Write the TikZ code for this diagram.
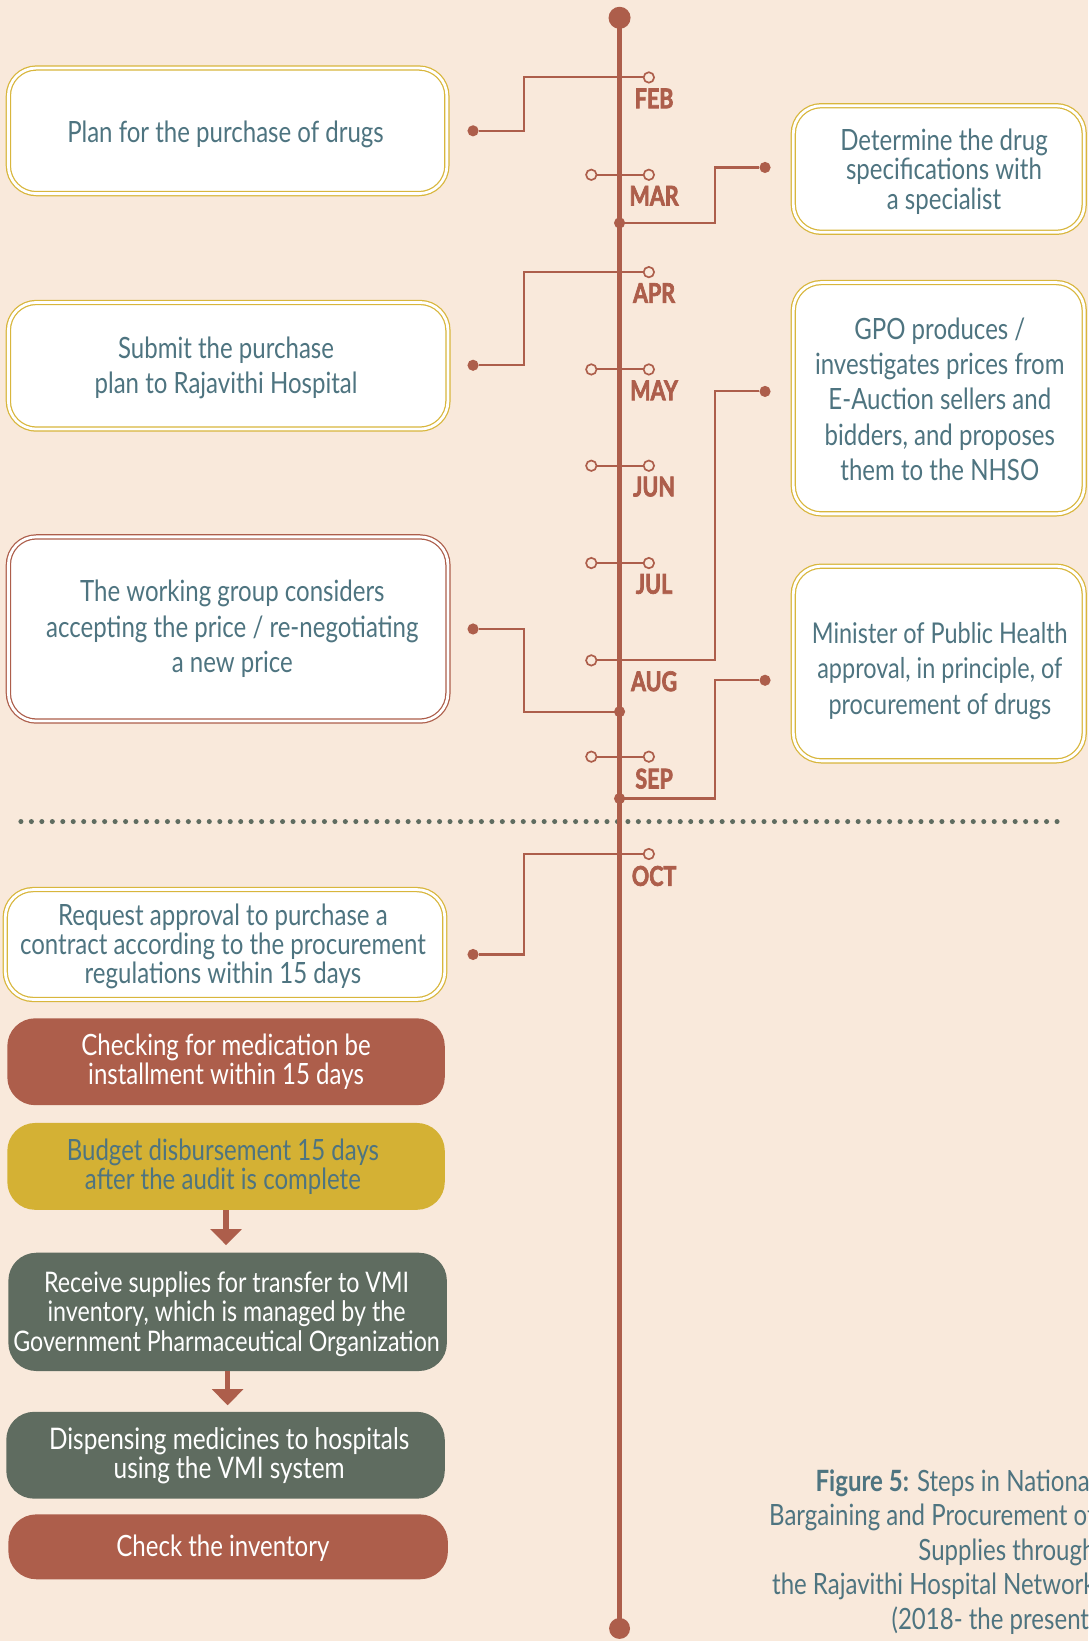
\documentclass[tikz,border=0pt]{standalone}
\usepackage{fontspec}
\setmainfont{Lato}[FakeStretch=0.82]
\newfontfamily\monfont{Lato}[FakeStretch=0.79, BoldFeatures={FakeBold=2.5}]
\usetikzlibrary{arrows.meta}
\definecolor{bg}{RGB}{249,233,219}
\definecolor{rust}{RGB}{173,94,75}
\definecolor{gold}{RGB}{216,182,60}
\definecolor{mustard}{RGB}{212,177,52}
\definecolor{sage}{RGB}{95,108,96}
\definecolor{tealtxt}{RGB}{78,116,128}
\newcommand{\bxfont}{\fontsize{21}{25.3}\selectfont}
\newcommand{\bxfontt}{\fontsize{21}{21}\selectfont}
\tikzset{
  conn/.style={draw=rust, line width=1.5pt},
  tickc/.style={circle, draw=rust, fill=bg, line width=1.2pt, minimum size=7.5pt, inner sep=0pt},
  enddot/.style={circle, fill=rust, minimum size=8pt, inner sep=0pt},
  mon/.style={text=rust, font=\monfont\bfseries\fontsize{19.5}{20}\selectfont, inner sep=0pt},
  box/.style={rectangle, rounded corners=20pt, inner sep=0pt},
  wbox/.style={box, fill=white, draw=#1, line width=0.9pt, double=white, double distance=2pt},
  fbox/.style={box, fill=#1},
  wtext/.style={align=center, inner sep=0pt, text=tealtxt, font=\bxfont},
  ftext/.style={align=center, inner sep=0pt, text=white, font=\bxfontt},
  arr/.style={draw=rust, line width=4pt, -{Triangle[width=22pt,length=11.5pt]}},
}
\begin{document}
\begin{tikzpicture}[x=0.75pt,y=-0.75pt]
\fill[bg] (0,0) rectangle (1040,1568);
\useasboundingbox (0,0) rectangle (1040,1568);

% boxes
\node[wbox=gold, minimum width=314.25pt, minimum height=90pt] (b1) at (217.5,125) {};
\node[wbox=gold, minimum width=208.5pt, minimum height=90.75pt] (b2) at (897,161.5) {};
\node[wbox=gold, minimum width=315pt, minimum height=90.75pt] (b3) at (218,349.5) {};
\node[wbox=gold, minimum width=208.5pt, minimum height=165.75pt] (b4) at (897,380.5) {};
\node[wbox=rust, minimum width=315pt, minimum height=132pt] (b5) at (218,601) {};
\node[wbox=gold, minimum width=208.5pt, minimum height=139.5pt] (b6) at (897,634) {};
\node[wbox=gold, minimum width=315pt, minimum height=78.75pt] (b7) at (215,902.5) {};
\node[fbox=rust, minimum width=313.5pt, minimum height=62.25pt] (b8) at (216,1014.5) {};
\node[fbox=mustard, minimum width=313.5pt, minimum height=62.25pt] (b9) at (216,1114.5) {};
\node[fbox=sage, minimum width=314.25pt, minimum height=84.75pt] (b11) at (217.5,1253.5) {};
\node[fbox=sage, minimum width=314.25pt, minimum height=62.25pt] (b13) at (215.5,1390.5) {};
\node[fbox=rust, minimum width=315pt, minimum height=46.5pt] (b14) at (218,1478) {};

% box texts
\node[wtext] (t1) at (215.5,128) {Plan for the purchase of drugs};
\node[wtext, font=\fontsize{21}{21}\selectfont] (t2) at (902,164) {Determine the drug\\specifications with\\a specialist};
\node[wtext] (t3) at (216,351.5) {Submit the purchase\\plan to Rajavithi Hospital};
\node[wtext] (t4) at (898,381.5) {GPO produces /\\investigates prices from\\E-Auction sellers and\\bidders, and proposes\\them to the NHSO};
\node[wtext] (t5) at (222,601) {The working group considers\\accepting the price / re-negotiating\\a new price};
\node[wtext, font=\fontsize{20.5}{25.3}\selectfont] (t6) at (898,641) {Minister of Public Health\\approval, in principle, of\\procurement of drugs};
\node[wtext, font=\fontsize{21}{20.6}\selectfont] (t7) at (213,904.5) {Request approval to purchase a\\contract according to the procurement\\regulations within 15 days};
\node[ftext] (t8) at (216,1014.5) {Checking for medication be\\installment within 15 days};
\node[ftext, text=tealtxt] (t9) at (213,1115) {Budget disbursement 15 days\\after the audit is complete};
\node[ftext, font=\fontsize{20.3}{21}\selectfont] (t11) at (216.5,1255.5) {Receive supplies for transfer to VMI\\inventory, which is managed by the\\Government Pharmaceutical Organization};
\node[ftext, font=\fontsize{21.3}{21}\selectfont] (t13) at (219,1391) {Dispensing medicines to hospitals\\using the VMI system};
\node[ftext] (t14) at (213,1479) {Check the inventory};

% arrows between lower boxes
\draw[arr, shorten >=5.25pt] (b9.south) -- (b9.south |- b11.north);
\draw[arr, shorten >=4.5pt] (b11.south) -- (b11.south |- b13.north);

% dotted separator
\coordinate (sepL) at (20,785);
\coordinate (sepR) at (1018,785);
\draw[sage, line width=3.6pt, line cap=round, dash pattern=on 0pt off 7.5pt] (sepL) -- (sepR);

% tick circles
\node[tickc] (febR) at (620,74) {};
\node[tickc] (marL) at (565,167) {};
\node[tickc] (marR) at (620,167) {};
\node[tickc] (aprR) at (620,260) {};
\node[tickc] (mayL) at (565,353) {};
\node[tickc] (mayR) at (620,353) {};
\node[tickc] (junL) at (565,445) {};
\node[tickc] (junR) at (620,445) {};
\node[tickc] (julL) at (565,538) {};
\node[tickc] (julR) at (620,538) {};
\node[tickc] (augL) at (565,631) {};
\node[tickc] (sepL2) at (565,723) {};
\node[tickc] (sepR2) at (620,723) {};
\node[tickc] (octR) at (620,816) {};

% box end dots
\node[enddot] (d1) at (452,125) {};
\node[enddot] (d2) at (731,160) {};
\node[enddot] (d3) at (452,349) {};
\node[enddot] (d4) at (731,374) {};
\node[enddot] (d5) at (452,601) {};
\node[enddot] (d6) at (731,650) {};
\node[enddot] (d7) at (452,912) {};

% timeline junctions
\coordinate (tTop) at (592,17);
\coordinate (tBot) at (592,1556);
\coordinate (j1) at (592,213);
\coordinate (j2) at (592,680);
\coordinate (j3) at (592,763);

% connectors
\draw[conn] (d1) -- (501,125) |- (febR);
\draw[conn] (j1) -- (683,213) |- (d2);
\draw[conn] (d3) -- (501,349) |- (aprR);
\draw[conn] (d4) -- (683,374) |- (augL);
\draw[conn] (d5) -- (501,601) |- (j2);
\draw[conn] (d6) -- (683,650) |- (j3);
\draw[conn] (d7) -- (501,912) |- (octR);
\draw[conn] (marL) -- (marR);
\draw[conn] (mayL) -- (mayR);
\draw[conn] (junL) -- (junR);
\draw[conn] (julL) -- (julR);
\draw[conn] (sepL2) -- (sepR2);

% timeline
\draw[rust, line width=4pt] (tTop) -- (tBot);
\fill[rust] (tTop) circle (7.9pt);
\fill[rust] (tBot) circle (7.5pt);
\fill[rust] (j1) circle (4pt);
\fill[rust] (j2) circle (4pt);
\fill[rust] (j3) circle (4pt);

% month labels
\node[mon] (lFeb) at (625,94) {FEB};
\node[mon] (lMar) at (625,187) {MAR};
\node[mon] (lApr) at (625,280) {APR};
\node[mon] (lMay) at (625,373) {MAY};
\node[mon] (lJun) at (625,465) {JUN};
\node[mon] (lJul) at (625,558) {JUL};
\node[mon] (lAug) at (625,651) {AUG};
\node[mon] (lSep) at (625,744) {SEP};
\node[mon] (lOct) at (625,837) {OCT};

% caption
\node[anchor=east, align=right, text=tealtxt, inner sep=0pt, font=\fontsize{21}{24.75}\selectfont] (cap) at (1047,1483)
 {\textbf{Figure 5:} Steps in National\\Bargaining and Procurement of\\Supplies through\\the Rajavithi Hospital Network\\(2018- the present)};
\end{tikzpicture}
\end{document}
